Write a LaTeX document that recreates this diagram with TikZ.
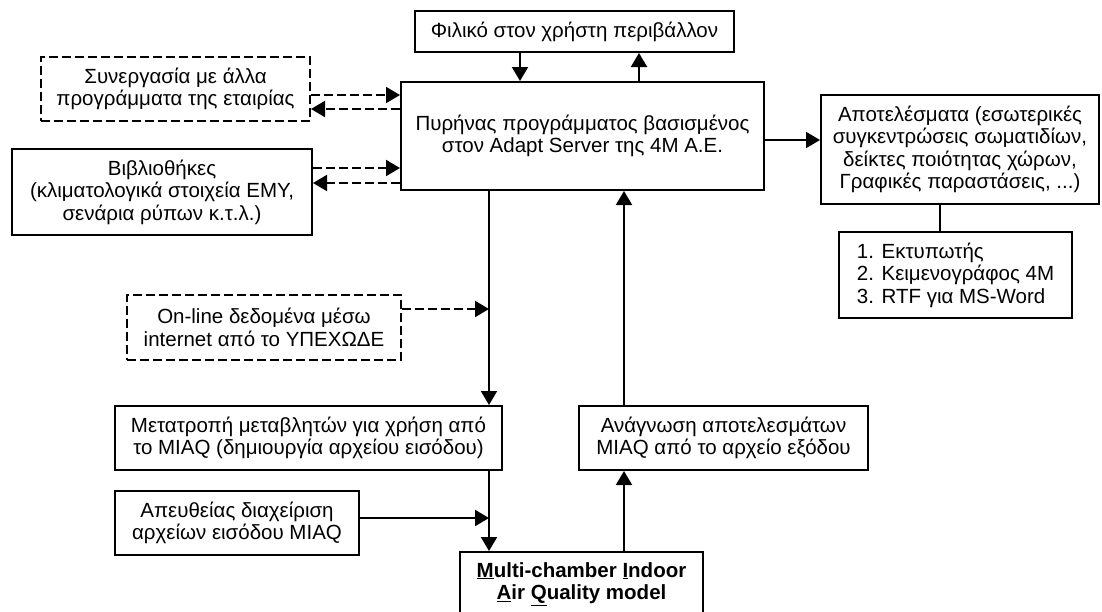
\documentclass[tikz,border=0pt]{standalone}
\usepackage{fontspec}
\setmainfont{Liberation Sans}
\usepackage{tikz}
\usetikzlibrary{shapes.geometric, arrows.meta, positioning}
\tikzstyle{block} = [rectangle, 
draw=black, line width=2pt, 
minimum height=64pt, 
inner sep=2pt, text centered, align=center]
\tikzstyle{arrow} = [line width=2pt, -{Triangle[length=14pt, width=16pt]}]

\begin{document}
\begin{tikzpicture}[
        x=1pt, y=-1pt,
        font=\fontsize{20.5}{22.5}\selectfont,
        % Στυλ για τις διακεκομμένες συνδέσεις
        dblock/.style={block, dash pattern=on 9pt off 4pt},
        link/.style={arrow, dash pattern=on 9pt off 4pt},
    ]
        \useasboundingbox (0,0) rectangle (1102,611);

        % 1. Ο πυρήνας και το περιβάλλον χρήστη
        \node (core) [block, minimum width=363pt, minimum height=108pt] at (582.5,136) {Πυρήνας προγράμματος βασισμένος \\ στον Adapt Server της 4M A.E.};
        \node (user) [block, minimum width=319pt, minimum height=41pt] at (574.5,31.5) {Φιλικό στον χρήστη περιβάλλον};

        % 2. Εξωτερικές πηγές (αριστερά)
        \node (coop) [dblock, minimum width=269pt] at (175.5,89) {Συνεργασία με άλλα \\ προγράμματα της εταιρίας};
        \node (lib) [block, minimum width=300pt, minimum height=86pt] at (162,192) {Βιβλιοθήκες \\ (κλιματολογικά στοιχεία ΕΜΥ, \\ σενάρια ρύπων κ.τ.λ.)};
        \node (online) [dblock, minimum width=274pt, minimum height=65pt] at (264,327.5) {On-line δεδομένα μέσω \\ internet από το ΥΠΕΧΩΔΕ};

        % 3. Αποτελέσματα (δεξιά)
        \node (results) [block, minimum width=278pt, minimum height=109pt] at (960,149.5) {Αποτελέσματα (εσωτερικές \\ συγκεντρώσεις σωματιδίων, \\ δείκτες ποιότητας χώρων, \\ Γραφικές παραστάσεις, ...)};
        \node (media) [block, minimum width=233pt, minimum height=86pt, align=left] at (955.5,275) {1. Εκτυπωτής \\ 2. Κειμενογράφος 4M \\ 3. RTF για MS-Word};

        % 4. Το μοντέλο MIAQ και τα αρχεία του
        \node (convert) [block, minimum width=387pt] at (308.5,438) {Μετατροπή μεταβλητών για χρήση από \\ το MIAQ (δημιουργία αρχείου εισόδου)};
        \node (read) [block, minimum width=289pt] at (723.5,438) {Ανάγνωση αποτελεσμάτων \\ MIAQ από το αρχείο εξόδου};
        \node (direct) [block, minimum width=244pt] at (237,523) {Απευθείας διαχείριση \\ αρχείων εισόδου MIAQ};
        \node (miaq) [block, minimum width=243pt, font=\fontsize{20.5}{22.5}\selectfont\bfseries] at (581.5,584) {\underline{M}ulti-chamber \underline{I}ndoor \\ \underline{A}ir \underline{Q}uality model};

        % Συνδέσεις
        \draw[arrow] ([xshift=-54.5pt]user.south) -- ([xshift=-54.5pt]user.south |- core.north);
        \draw[arrow] ([xshift=64.5pt]user.south |- core.north) -- ([xshift=64.5pt]user.south);
        \draw[arrow] ([yshift=-4pt]core.east) -- ([yshift=-4pt]core.east -| results.west);
        \draw[line width=2pt] (results.south -| media.north) ++(-15.5pt,0) coordinate (rs) -- (rs |- media.north);

        \draw[link] ([yshift=-6pt]coop.east) -- ([yshift=-6pt]coop.east -| core.west);
        \draw[link] ([yshift=-20pt]coop.east -| core.west) -- ([yshift=-20pt]coop.east);
        \draw[link] ([yshift=24pt]lib.east) -- ([yshift=24pt]lib.east -| core.west);
        \draw[link] ([yshift=9pt]lib.east -| core.west) -- ([yshift=9pt]lib.east);

        % Κατακόρυφη ροή προς το MIAQ
        \coordinate (trunk) at ([xshift=-93.5pt]core.south);
        \draw[arrow] (trunk) -- (trunk |- convert.north);
        \draw[link] ([yshift=18.5pt]online.east) -- ([yshift=18.5pt]online.east -| trunk);
        \draw[arrow] (trunk |- convert.south) -- (trunk |- miaq.north);
        \draw[arrow] ([yshift=5pt]direct.east) -- ([yshift=5pt]direct.east -| trunk);

        % Επιστροφή αποτελεσμάτων
        \coordinate (back) at ([xshift=41.5pt]core.south);
        \draw[arrow] (back |- miaq.north) -- (back |- read.south);
        \draw[arrow] (back |- read.north) -- (back);

    \end{tikzpicture}
\end{document}
